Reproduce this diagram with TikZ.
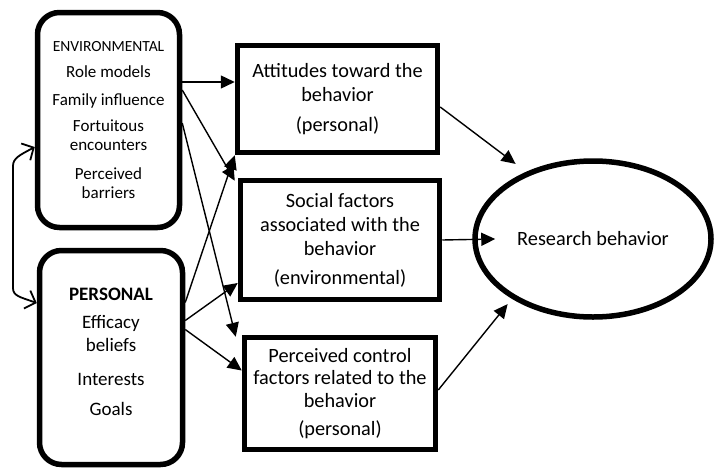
\documentclass[tikz,border=0pt]{standalone}
\usepackage{fontspec}
\setmainfont{Carlito}
\usetikzlibrary{arrows.meta,shapes.geometric}

\begin{document}
\begin{tikzpicture}[x=1pt,y=-1pt,
  thickbox/.style={draw, line width=5.5pt, align=center, inner sep=0pt},
  roundbox/.style={thickbox, rounded corners=22pt},
  link/.style={line width=1.4pt, -{Triangle[length=14pt,width=13pt]}},
  bidir/.style={line width=1.8pt,
    {Straight Barb[length=9pt,width=19pt]}-{Straight Barb[length=9pt,width=19pt]}},
  txtA/.style={font=\fontsize{17pt}{19pt}\selectfont},
  txtB/.style={font=\fontsize{20.3pt}{24pt}\selectfont}
]
\useasboundingbox (0,0) rectangle (714,471);

% sources
\node[roundbox, txtA, minimum width=142pt, minimum height=215pt] (env) at (108.5,120)
  {{\fontsize{15.5pt}{19pt}\selectfont ENVIRONMENTAL}\\[7pt]
   Role models\\[9pt]
   Family influence\\[7pt]
   Fortuitous\\ encounters\\[10pt]
   Perceived\\ barriers};

\node[roundbox, font=\fontsize{19pt}{23pt}\selectfont, text depth=12pt,
      minimum width=143pt, minimum height=214pt] (pers) at (111,357.5)
  {{\bfseries PERSONAL}\\[5pt]
   Efficacy\\ beliefs\\[11pt]
   Interests\\[7pt]
   Goals};

% mediating factors
\node[thickbox, txtB, minimum width=200pt, minimum height=107pt] (att) at (337.5,99)
  {Attitudes toward the\\ behavior\\[6pt] (personal)};

\node[thickbox, txtB, minimum width=199pt, minimum height=119pt] (soc) at (340,240)
  {Social factors\\ associated with the\\ behavior\\[5pt] (environmental)};

\node[thickbox, font=\fontsize{20.3pt}{22.5pt}\selectfont,
      minimum width=191pt, minimum height=112pt] (perc) at (340,393.5)
  {Perceived control\\ factors related to the\\ behavior\\[5.5pt] (personal)};

% outcome
\node[draw, ellipse, line width=5.5pt, inner sep=0pt, txtB,
      minimum width=236pt, minimum height=156pt] (res) at (593,239)
  {Research behavior};

% reciprocal link between the sources
\coordinate (lt) at (13,166);
\coordinate (lb) at (13,288);
\draw[bidir] ([yshift=-27pt]env.west) .. controls (20,155) and (13,158) .. (lt)
  -- (lb) .. controls (13,296) and (20,297) .. ([yshift=54.5pt]pers.west);

% sources to factors
\draw[link] ([yshift=38pt]env.east) -- ([yshift=17pt]att.west);
\draw[link] ([yshift=30pt]env.east) -- ([xshift=-3pt,yshift=-3pt]soc.north west);
\draw[link] ([yshift=-3pt]env.east) -- ([xshift=-6pt,yshift=-2pt]perc.north west);
\draw[link] ([yshift=55pt]pers.east) -- (att.south west);
\draw[link] ([yshift=37pt]pers.east) -- ([yshift=-43pt]soc.west);
\draw[link] ([yshift=28pt]pers.east) -- ([yshift=23pt]perc.west);

% factors to behaviour
\draw[link] ([yshift=-8pt]att.east) -- ([xshift=8pt,yshift=18pt]res.north west);
\draw[link] (soc.east) -- ([xshift=23pt]res.west);
\draw[link] ([yshift=3.5pt]perc.east) -- ([yshift=-8pt]res.south west);
\end{tikzpicture}
\end{document}
